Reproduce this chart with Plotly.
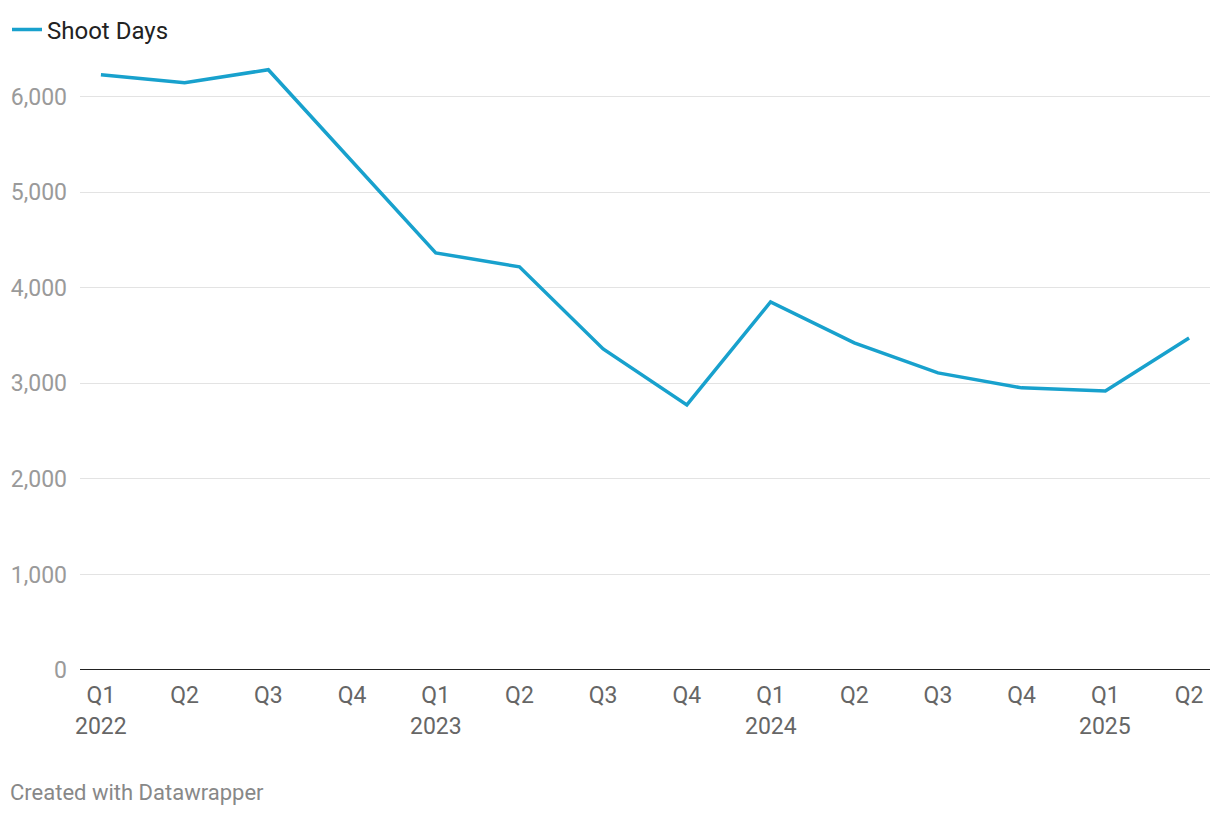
import plotly.graph_objects as go

quarters = ["Q1", "Q2", "Q3", "Q4", "Q1", "Q2", "Q3", "Q4", "Q1", "Q2", "Q3", "Q4", "Q1", "Q2"]
years = ["2022", "", "", "", "2023", "", "", "", "2024", "", "", "", "2025", ""]
shoot_days = [6230, 6147, 6283, 5325, 4366, 4220, 3361, 2775, 3853, 3424, 3110, 2953, 2921, 3476]
y_ticks = [0, 1000, 2000, 3000, 4000, 5000, 6000]
y_labels = ["0", "1,000", "2,000", "3,000", "4,000", "5,000", "6,000"]

idx = list(range(len(quarters)))
# page has an 8px body margin; figure sized to fit the 1220x816 window
W, H = 1212, 808
ml, mr, mt, mb = 72, 10, 41, 146
PW, PH = W - ml - mr, H - mt - mb

def px_x(fx):  # figure pixel x -> paper
    return (fx - ml) / PW

def px_y(fy):  # figure pixel y (from top) -> paper
    return (H - mb - fy) / PH

fig = go.Figure()
fig.add_trace(go.Scatter(
    x=idx, y=shoot_days, mode="lines", name="Shoot Days",
    line=dict(color="#18a1cd", width=3.5), showlegend=True,
))

fig.update_layout(
    width=W, height=H,
    margin=dict(l=ml, r=mr, t=mt, b=mb, autoexpand=False),
    paper_bgcolor="white", plot_bgcolor="white",
    font=dict(family="Roboto", size=20, color="#333"),
    legend=dict(x=px_x(-1), y=px_y(22), xanchor="left", yanchor="middle",
                orientation="h", font=dict(size=24, color="#222"), itemwidth=30,
                bgcolor="rgba(0,0,0,0)"),
    xaxis=dict(range=[-0.25, len(quarters) - 0.75], tickmode="array",
               tickvals=idx, ticktext=quarters, showgrid=False, zeroline=False,
               showline=False, ticks="", tickfont=dict(size=23, color="#666"),
               ticklabelstandoff=9, automargin=False),
    yaxis=dict(range=[0, 6500], tickmode="array", tickvals=y_ticks, ticktext=y_labels,
               showgrid=True, gridcolor="#e3e3e3", gridwidth=1, zeroline=False,
               showline=False, ticks="", tickfont=dict(size=23, color="#9a9a9a"),
               ticklabelstandoff=12, automargin=False),
)

# baseline at zero
fig.add_shape(type="line", xref="paper", yref="y", x0=0, x1=1, y0=0, y1=0,
              line=dict(color="#222", width=2))

# year labels under Q1 ticks
for i, yr in enumerate(years):
    if yr:
        fig.add_annotation(x=i, xref="x", y=px_y(718), yref="paper",
                           text=yr, showarrow=False, yanchor="middle",
                           font=dict(size=23, color="#666"))

fig.add_annotation(x=px_x(0), xref="paper", xanchor="left",
                   y=px_y(784), yref="paper", yanchor="middle",
                   text="Created with Datawrapper", showarrow=False,
                   font=dict(size=22, color="#888"))

fig.write_html("out.html")
